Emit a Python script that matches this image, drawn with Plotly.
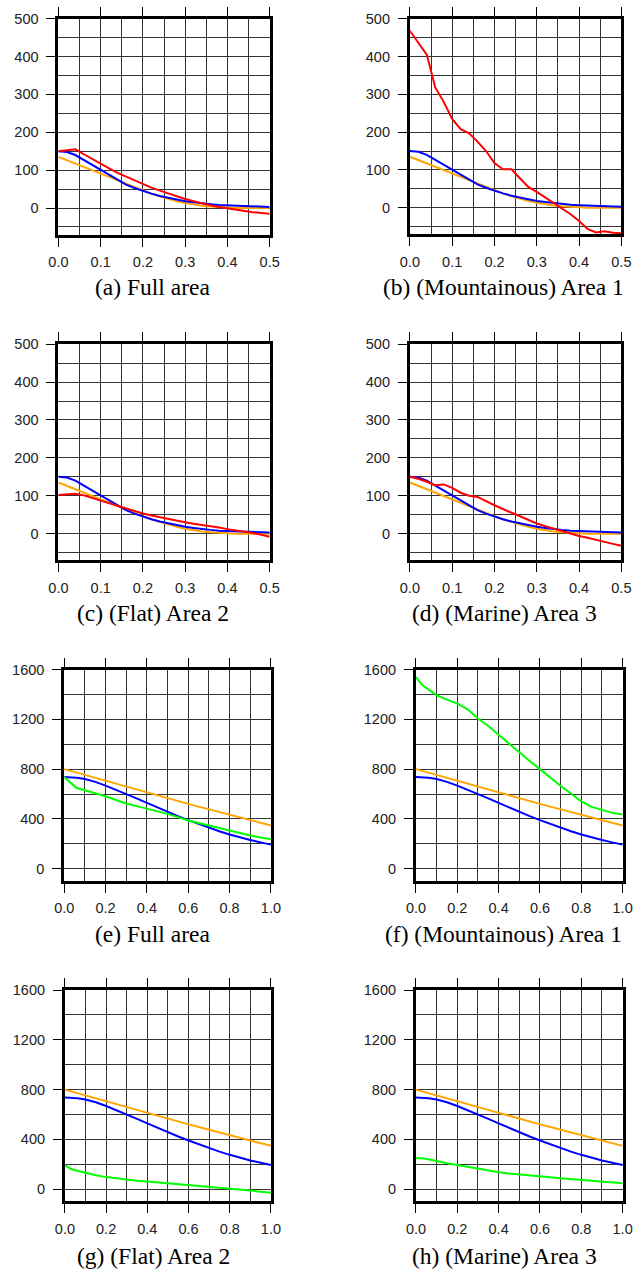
import plotly.graph_objects as go

# ---------------- data ----------------
X_TOP = [0.00, 0.02, 0.04, 0.06, 0.08, 0.10, 0.12, 0.14, 0.16, 0.18, 0.20, 0.22, 0.24,
         0.26, 0.28, 0.30, 0.32, 0.34, 0.36, 0.38, 0.40, 0.42, 0.44, 0.46, 0.48, 0.50]

ORANGE_TOP = [135, 126, 117, 108, 99, 90, 81, 72, 63, 54, 46, 38, 31,
              24, 18, 13, 9, 6, 4, 2, 1, 0, 0, 0, 0, 0]
BLUE_TOP = [150, 148, 140, 127, 113, 99, 86, 73, 62, 53, 45, 38, 32,
            27, 22, 18, 15, 12, 10, 8, 7, 6, 5, 4, 3, 3]
RED_A = [150, 153, 155, 142, 129, 117, 105, 93, 83, 72, 62, 54, 46,
         38, 31, 24, 18, 12, 7, 3, -1, -5, -8, -11, -13, -15]
RED_B = [468, 437, 405, 318, 280, 235, 208, 197, 175, 150, 118, 102, 102,
         78, 55, 42, 27, 11, -3, -17, -35, -56, -65, -62, -66, -67]
RED_C = [102, 103, 105, 101, 94, 87, 80, 73, 66, 59, 53, 48, 43,
         38, 34, 30, 26, 23, 19, 16, 12, 9, 5, 2, -3, -8]
RED_D = [150, 145, 137, 128, 130, 121, 108, 100, 97, 85, 75, 65, 55,
         46, 36, 27, 20, 13, 6, 0, -6, -11, -17, -22, -27, -32]

X_BOT = [0.00, 0.03, 0.06, 0.10, 0.15, 0.20, 0.25, 0.30, 0.35, 0.40, 0.45,
         0.50, 0.55, 0.60, 0.65, 0.70, 0.75, 0.80, 0.85, 0.90, 0.95, 1.00]
ORANGE_BOT = [800, 786, 772, 753, 730, 707, 682, 657, 633, 609, 587,
              565, 543, 521, 499, 478, 457, 436, 414, 392, 370, 348]
BLUE_BOT = [736, 735, 731, 721, 698, 668, 635, 600, 565, 529, 492,
            457, 423, 391, 360, 330, 302, 276, 252, 231, 212, 194]
GREEN_E = [736, 690, 648, 630, 607, 582, 552, 524, 503, 484, 462,
           441, 415, 388, 368, 348, 325, 303, 285, 268, 252, 237]
GREEN_F = [1539, 1475, 1440, 1393, 1358, 1326, 1280, 1207, 1146, 1074, 1007,
           936, 865, 800, 730, 665, 605, 542, 497, 470, 449, 436]
GREEN_G = [194, 162, 148, 130, 112, 97, 86, 76, 68, 61, 54,
           48, 42, 36, 30, 23, 13, 4, -3, -11, -20, -29]
GREEN_H = [248, 248, 240, 224, 209, 194, 178, 162, 148, 136, 126,
           117, 110, 104, 96, 88, 81, 75, 68, 61, 55, 48]

CAPTIONS = ["(a) Full area", "(b) (Mountainous) Area 1",
            "(c) (Flat) Area 2", "(d) (Marine) Area 3",
            "(e) Full area", "(f) (Mountainous) Area 1",
            "(g) (Flat) Area 2", "(h) (Marine) Area 3"]

TOP_RANGE_Y = [-70, 500]
BOT_RANGE_Y = [-96, 1600]

# ---------------- layout geometry (pixels) ----------------
W, H = 643, 1269
PANELS = [
    (50, 268, 10.7, 228), (412.7, 631, 10.7, 227.7),
    (50, 268, 338.3, 555.7), (412.7, 631, 338.3, 555.7),
    (56, 269.3, 665.7, 878.3), (419, 632.3, 665.7, 878.3),
    (56.7, 269.3, 988.3, 1200.7), (419, 632.3, 988.3, 1200.7),
]
CAP_POS = [(147, 281), (509, 281), (147.5, 609), (510, 609),
           (147, 932), (509.5, 932), (148, 1256), (510, 1256)]

ORANGE, BLUE, RED, GREEN = "#FFA500", "#0000FF", "#FF0000", "#00FF00"
GRID = "#333333"
TICKFONT = dict(family="Liberation Sans, Arial, sans-serif", size=14.5, color="#222222")

fig = go.Figure()

series = [
    [(X_TOP, ORANGE_TOP, ORANGE), (X_TOP, BLUE_TOP, BLUE), (X_TOP, RED_A, RED)],
    [(X_TOP, ORANGE_TOP, ORANGE), (X_TOP, BLUE_TOP, BLUE), (X_TOP, RED_B, RED)],
    [(X_TOP, ORANGE_TOP, ORANGE), (X_TOP, BLUE_TOP, BLUE), (X_TOP, RED_C, RED)],
    [(X_TOP, ORANGE_TOP, ORANGE), (X_TOP, BLUE_TOP, BLUE), (X_TOP, RED_D, RED)],
    [(X_BOT, ORANGE_BOT, ORANGE), (X_BOT, BLUE_BOT, BLUE), (X_BOT, GREEN_E, GREEN)],
    [(X_BOT, ORANGE_BOT, ORANGE), (X_BOT, BLUE_BOT, BLUE), (X_BOT, GREEN_F, GREEN)],
    [(X_BOT, ORANGE_BOT, ORANGE), (X_BOT, BLUE_BOT, BLUE), (X_BOT, GREEN_G, GREEN)],
    [(X_BOT, ORANGE_BOT, ORANGE), (X_BOT, BLUE_BOT, BLUE), (X_BOT, GREEN_H, GREEN)],
]

layout = {}
for i, (x0, x1, y0, y1) in enumerate(PANELS):
    n = i + 1
    sfx = "" if n == 1 else str(n)
    top = i < 4
    xr = [0, 0.5] if top else [0, 1.0]
    yr = TOP_RANGE_Y if top else BOT_RANGE_Y
    xd, xmd = (0.1, 0.05) if top else (0.2, 0.1)
    yd, ymd = (100, 50) if top else (400, 200)

    for xs, ys, col in series[i]:
        fig.add_trace(go.Scatter(x=xs, y=ys, mode="lines", line=dict(color=col, width=2),
                                 xaxis="x" + sfx, yaxis="y" + sfx, showlegend=False,
                                 hoverinfo="skip"))

    layout["xaxis" + sfx] = dict(
        domain=[x0 / W, x1 / W], anchor="y" + sfx, range=xr,
        tickmode="linear", tick0=0, dtick=xd, tickformat=".1f",
        ticks="outside", ticklen=9, tickwidth=1, tickcolor="black",
        showline=True, linewidth=3, linecolor="black", mirror="allticks",
        showgrid=True, gridcolor=GRID, gridwidth=1, zeroline=False,
        minor=dict(tick0=0, dtick=xmd, showgrid=True, gridcolor=GRID, gridwidth=1, ticks=""),
        tickfont=TICKFONT, ticklabelstandoff=3, fixedrange=True,
    )
    layout["yaxis" + sfx] = dict(
        domain=[1 - y1 / H, 1 - y0 / H], anchor="x" + sfx, range=yr,
        tickmode="linear", tick0=0, dtick=yd,
        ticks="outside", ticklen=9, tickwidth=1, tickcolor="black",
        showline=True, linewidth=3, linecolor="black", mirror=True,
        showgrid=True, gridcolor=GRID, gridwidth=1, zeroline=False,
        minor=dict(tick0=0, dtick=ymd, showgrid=True, gridcolor=GRID, gridwidth=1, ticks=""),
        tickfont=TICKFONT, ticklabelstandoff=5, fixedrange=True,
    )
    # right-hand ticks at every grid line
    m = n + 8
    layout["yaxis" + str(m)] = dict(
        overlaying="y" + sfx, side="right", anchor="x" + sfx, range=yr,
        tickmode="linear", tick0=0, dtick=ymd,
        ticks="outside", ticklen=9, tickwidth=1, tickcolor="black",
        showticklabels=False, showgrid=False, zeroline=False, showline=False,
        fixedrange=True,
    )

annotations = []
for (cx, cy), txt in zip(CAP_POS, CAPTIONS):
    annotations.append(dict(
        x=cx / W, y=1 - cy / H, xref="paper", yref="paper", text=txt, showarrow=False,
        xanchor="center", yanchor="middle",
        font=dict(family="Liberation Serif, Times New Roman, serif", size=23.5, color="black"),
    ))

fig.update_layout(
    width=W, height=H, autosize=False,
    margin=dict(l=0, r=0, t=0, b=0),
    paper_bgcolor="white", plot_bgcolor="white",
    showlegend=False, annotations=annotations,
    **layout,
)

fig.write_html(
    "out.html",
    config={"displayModeBar": False},
    post_script="document.body.style.margin='0';document.body.style.padding='0';"
                "document.body.style.overflow='hidden';",
)
